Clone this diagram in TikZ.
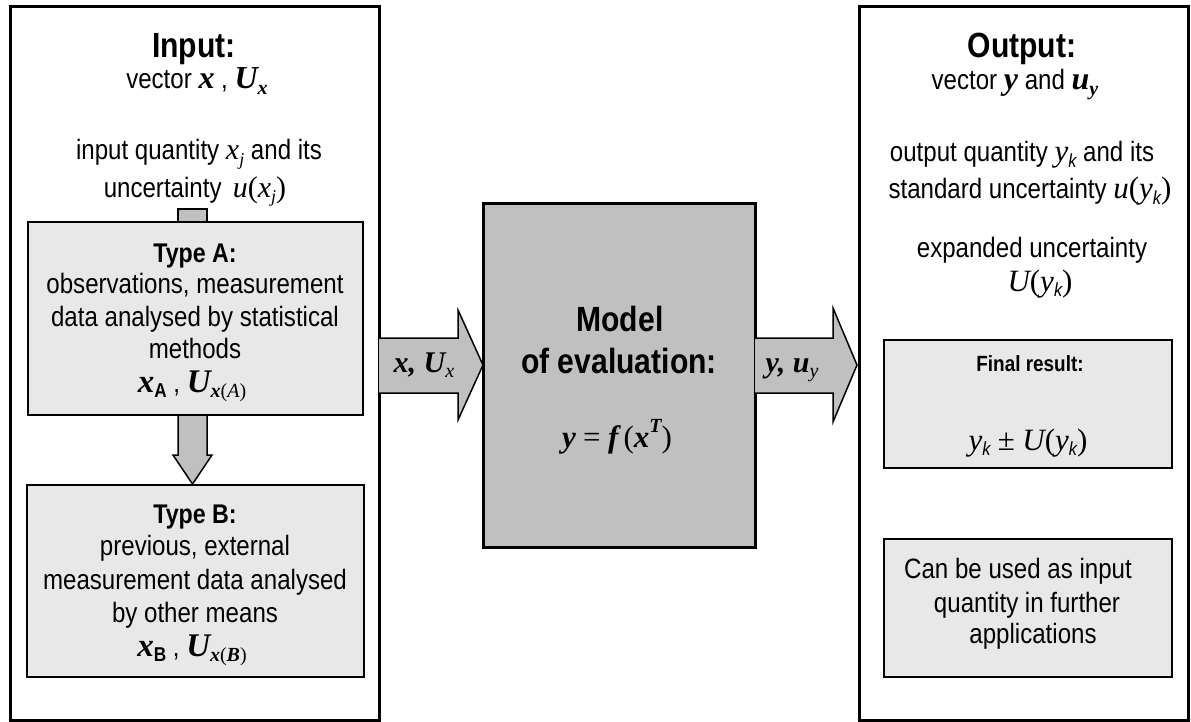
\documentclass[tikz,border=0pt]{standalone}
\usepackage{fontspec}
\setmainfont{Liberation Sans}[FakeStretch=0.86]
\newfontfamily\tms{Liberation Serif}
\definecolor{boxgray}{HTML}{E8E8E8}
\definecolor{midgray}{HTML}{C0C0C0}
\newcommand\tmi[1]{{\tms\itshape #1}}
\newcommand\tmb[1]{{\tms\bfseries\itshape #1}}
\newcommand\tup[1]{{\tms #1}}
\newcommand\lsub[2][18]{\raisebox{-0.35ex}{\fontsize{#1}{#1}\selectfont #2}}
\newcommand\lsup[2][18]{\raisebox{0.9ex}{\fontsize{#1}{#1}\selectfont #2}}
\begin{document}
\begin{tikzpicture}[x=1pt,y=-1pt,
  box/.style={draw, inner sep=0, outer sep=0},
  outerbox/.style={box, line width=3pt, fill=white},
  typebox/.style={box, line width=2pt, fill=boxgray},
  modelbox/.style={box, line width=3pt, fill=midgray},
  txt/.style={anchor=base, inner sep=0, font=\fontsize{28}{32}\selectfont},
  mth/.style={anchor=base, inner sep=0, font=\fontsize{31}{32}\selectfont},
  ttl/.style={anchor=base, inner sep=0, font=\fontsize{35}{40}\selectfont\bfseries},
  sttl/.style={anchor=base, inner sep=0, font=\fontsize{27}{32}\selectfont\bfseries},
  fttl/.style={anchor=base, inner sep=0, font=\fontsize{22}{26}\selectfont\bfseries},
  blockarrow/.style={fill=midgray},
  arrowline/.style={draw, line width=1.5pt, line join=miter}
]
\useasboundingbox (0,0) rectangle (1191,722);

% outer boxes
\node[outerbox, minimum width=369pt, minimum height=713pt] (inbox) at (194.5,363.5) {};
\node[outerbox, minimum width=329pt, minimum height=713pt] (outbox) at (1023.5,363.5) {};

% model box
\node[modelbox, minimum width=272pt, minimum height=343pt] (model) at (619,375.5) {};

% block arrows between boxes
\coordinate (intip) at (483,365);
\coordinate (outtip) at (857,365);
\fill[blockarrow] (379,338) -- (458,338) -- (458,310) -- (intip) -- (458,420) -- (458,393) -- (379,393) -- cycle;
\draw[arrowline] (379,338) -- (458,338) -- (458,310) -- (intip) -- (458,420) -- (458,393) -- (379,393);
\fill[blockarrow] (755,338) -- (833,338) -- (833,308) -- (outtip) -- (833,422) -- (833,393) -- (755,393) -- cycle;
\draw[arrowline] (755,338) -- (833,338) -- (833,308) -- (outtip) -- (833,422) -- (833,393) -- (755,393);

% stub above type A
\draw[arrowline, fill=midgray] (178,209) rectangle (207,223);

% type boxes
\node[typebox, minimum width=335pt, minimum height=193pt] (typeA) at (195.5,318.5) {};
\node[typebox, minimum width=337pt, minimum height=192pt] (typeB) at (195.5,581) {};
\node[typebox, minimum width=288pt, minimum height=128pt] (final) at (1028,404) {};
\node[typebox, minimum width=288pt, minimum height=138pt] (can) at (1028,608) {};

% down arrow A -> B
\coordinate (downtip) at (192.5,484);
\fill[blockarrow] (178,416) -- (178,455) -- (173,455) -- (downtip) -- (212,455) -- (207,455) -- (207,416) -- cycle;
\draw[arrowline] (178,416) -- (178,455) -- (173,455) -- (downtip) -- (212,455) -- (207,455) -- (207,416);

% input texts
\node[ttl] (inT) at (194,58) {Input:};
\node[txt] (inV) at (197,89) {vector \tmb{\fontsize{32}{32}\selectfont x} , \tmb{\fontsize{32}{32}\selectfont U}\lsub[20]{\tmb{x}}};
\node[txt] (inQ1) at (199,160) {input quantity \tmi{\fontsize{30}{32}\selectfont x}\lsub{\tmi{j}} and its};
\node[txt] (inQ2) at (195,197) {uncertainty\, \tmi{\fontsize{30}{32}\selectfont u}\tup{\fontsize{30}{32}\selectfont (}\tmi{\fontsize{30}{32}\selectfont x}\lsub{\tmi{j}}\tup{\fontsize{30}{32}\selectfont )}};

\node[sttl] (aT) at (195,262) {Type A:};
\node[txt] (a1) at (195,293) {observations, measurement};
\node[txt] (a2) at (195,326) {data analysed by statistical};
\node[txt] (a3) at (195,358) {methods};
\node[txt] (a4) at (192,392) {\tmb{\fontsize{33}{32}\selectfont x}\lsub[20]{\bfseries A} , \tmb{\fontsize{33}{32}\selectfont U}\lsub[20]{\tmb{x}\tup{(}\tmi{A}\tup{)}}};

\node[sttl] (bT) at (195,523) {Type B:};
\node[txt] (b1) at (195,555) {previous, external};
\node[txt] (b2) at (195,589) {measurement data analysed};
\node[txt] (b3) at (195,622) {by other means};
\node[txt] (b4) at (192,656) {\tmb{\fontsize{33}{32}\selectfont x}\lsub[20]{\bfseries B} , \tmb{\fontsize{33}{32}\selectfont U}\lsub[20]{\tmb{x}\tup{(}\tmb{B}\tup{)}}};

% model texts
\node[ttl] (mT1) at (620,331) {Model};
\node[ttl] (mT2) at (619,373) {of evaluation:};
\node[mth] (mF) at (617,447) {\tmb{y} \tup{=} \tmb{f}\,\tup{(}\tmb{x}\lsup[20]{\tmb{T}}\tup{)}};

% arrow labels
\node[txt] (lx) at (424,372) {\tmb{\fontsize{30}{32}\selectfont x, U}\lsub[20]{\tmi{x}}};
\node[txt] (ly) at (792,372) {\tmb{\fontsize{30}{32}\selectfont y, u}\lsub[20]{\tmi{y}}};

% output texts
\node[ttl] (oT) at (1022,58) {Output:};
\node[txt] (oV) at (1015,90) {vector \tmb{\fontsize{32}{32}\selectfont y} and \tmb{\fontsize{32}{32}\selectfont u}\lsub[20]{\tmb{y}}};
\node[txt] (oQ1) at (1022,162) {output quantity \tmi{\fontsize{31}{32}\selectfont y}\lsub[19]{\itshape k} and its};
\node[txt] (oQ2) at (1030,199) {standard uncertainty \tmi{\fontsize{31}{32}\selectfont u}\tup{\fontsize{31}{32}\selectfont (}\tmi{\fontsize{31}{32}\selectfont y}\lsub[19]{\itshape k}\tup{\fontsize{31}{32}\selectfont )}};
\node[txt] (oE1) at (1032,257) {expanded uncertainty};
\node[mth] (oE2) at (1040,291) {\tmi{U}\tup{(}\tmi{y}\lsub[19]{\itshape k}\tup{)}};

\node[fttl] (fT) at (1030,371) {Final result:};
\node[mth] (fR) at (1028,450) {\tmi{y}\lsub[19]{\itshape k} \tup{±} \tmi{U}\tup{(}\tmi{y}\lsub[19]{\itshape k}\tup{)}};

\node[txt] (c1) at (1018,578) {Can be used as input};
\node[txt] (c2) at (1027,612) {quantity in further};
\node[txt] (c3) at (1033,643) {applications};
\end{tikzpicture}
\end{document}
